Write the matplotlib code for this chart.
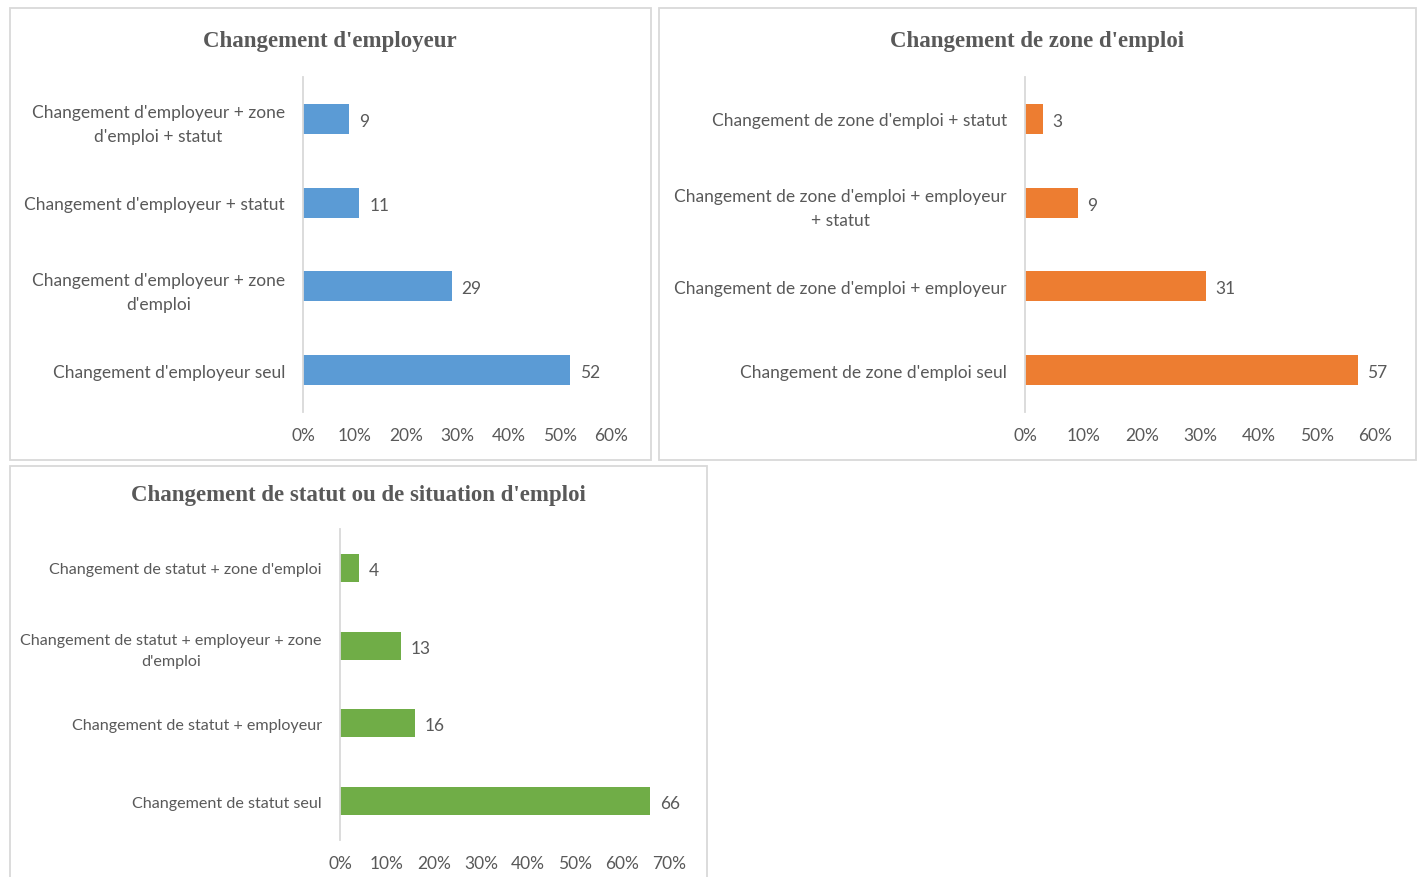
import matplotlib.pyplot as plt
from matplotlib.patches import Rectangle
from matplotlib.ticker import FuncFormatter

W, H = 1421, 878

BLUE = '#5B9BD5'
ORANGE = '#ED7D31'
GREEN = '#70AD47'
TXT = '#595959'
LINE = '#D9D9D9'

LABEL_FONT = ['Lato', 'DejaVu Sans']
TITLE_FONT = ['Liberation Serif', 'DejaVu Serif']

# Changement d'employeur
employeur_labels = [
    "Changement d'employeur + zone\nd'emploi + statut",
    "Changement d'employeur + statut",
    "Changement d'employeur + zone\nd'emploi",
    "Changement d'employeur seul",
]
employeur_values = [9, 11, 29, 52]

# Changement de zone d'emploi
zone_labels = [
    "Changement de zone d'emploi + statut",
    "Changement de zone d'emploi + employeur\n+ statut",
    "Changement de zone d'emploi + employeur",
    "Changement de zone d'emploi seul",
]
zone_values = [3, 9, 31, 57]

# Changement de statut
statut_labels = [
    "Changement de statut + zone d'emploi",
    "Changement de statut + employeur + zone\nd'emploi",
    "Changement de statut + employeur",
    "Changement de statut seul",
]
statut_values = [4, 13, 16, 66]


def px_axes(fig, x0, y0, x1, y1):
    return fig.add_axes([x0 / W, 1 - y1 / H, (x1 - x0) / W, (y1 - y0) / H])


def frame(fig, x0, y0, x1, y1):
    fig.patches.append(Rectangle((x0 / W, 1 - y1 / H), (x1 - x0) / W, (y1 - y0) / H,
                                 transform=fig.transFigure, fill=False,
                                 edgecolor=LINE, linewidth=1.3, zorder=0))


def bar_panel(fig, box, labels, values, color, xmax, title, title_xy, label_size=12.5):
    ax = px_axes(fig, *box)
    pos = list(range(len(values)))
    ax.barh(pos, values, height=0.36, color=color)
    ax.set_xlim(0, xmax)
    ax.set_ylim(len(values) - 0.5, -0.5)
    ax.set_yticks(pos)
    ax.set_yticklabels(labels, family=LABEL_FONT, fontsize=label_size, color=TXT,
                       multialignment='center', linespacing=1.6)
    ax.set_xticks(range(0, xmax + 1, 10))
    ax.xaxis.set_major_formatter(FuncFormatter(lambda v, p: f'{v:.0f}%'))
    for t in ax.get_xticklabels():
        t.set_family(LABEL_FONT)
        t.set_fontsize(12.5)
        t.set_color(TXT)
    ax.tick_params(axis='x', length=0, pad=11)
    ax.tick_params(axis='y', length=0, pad=13)
    for s in ['top', 'right', 'bottom']:
        ax.spines[s].set_visible(False)
    ax.spines['left'].set_color(LINE)
    ax.spines['left'].set_linewidth(1.3)
    ax.set_facecolor('none')
    for p, v in zip(pos, values):
        ax.annotate(str(v), (v, p), xytext=(7, -1.5), textcoords='offset points',
                    va='center', ha='left', family=LABEL_FONT, fontsize=12.5, color=TXT)
    fig.text(title_xy[0] / W, 1 - title_xy[1] / H, title, ha='center', va='center',
             family=TITLE_FONT, fontweight='bold', fontsize=16.5, color=TXT)
    return ax


fig = plt.figure(figsize=(W / 100, H / 100), dpi=100)

frame(fig, 10, 9, 651, 461)
frame(fig, 659, 9, 1416, 461)
frame(fig, 10, 467, 707, 890)

bar_panel(fig, (303, 78, 611, 413), employeur_labels, employeur_values, BLUE, 60,
          "Changement d'employeur", (330, 41))
bar_panel(fig, (1025, 78, 1375, 413), zone_labels, zone_values, ORANGE, 60,
          "Changement de zone d'emploi", (1037, 41))
bar_panel(fig, (340, 530, 669, 841), statut_labels, statut_values, GREEN, 70,
          "Changement de statut ou de situation d'emploi", (358, 496), label_size=11.6)

fig.savefig('out.png', dpi=100)
